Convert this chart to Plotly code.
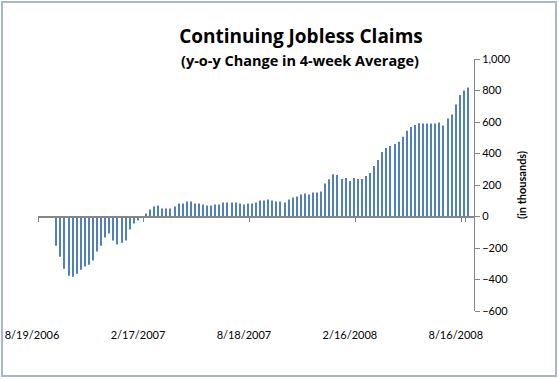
import plotly.graph_objects as go
import pandas as pd

# Weekly categories (Saturday week-ending dates)
week_dates = pd.date_range("2006-08-19", periods=107, freq="7D")
week_labels = [f"{d.month}/{d.day}/{d.year}" for d in week_dates]

# y-o-y change in the 4-week average of continuing claims (thousands)
yoy_change = [
    None, None, None, None,
    -185, -255, -331, -376, -382, -363, -338, -318, -306, -280,
    -223, -185, -134, -108, -153, -178, -166, -153, -83, -45,
    -25, 2, 19, 45, 64, 70, 51, 51, 51, 64,
    83, 83, 96, 96, 83, 83, 76, 70, 70, 76,
    76, 89, 89, 89, 89, 83, 76, 83, 83, 89,
    102, 102, 108, 102, 95, 95, 89, 108, 121, 127,
    140, 146, 140, 153, 153, 159, 210, 236, 268, 263,
    238, 244, 225, 244, 238, 238, 257, 276, 320, 359,
    410, 435, 448, 461, 474, 506, 544, 569, 581, 592,
    590, 590, 590, 590, 597, 578, 622, 647, 711, 771,
    800, 819,
    None,
]

tick_labels = ["8/19/2006", "2/17/2007", "8/18/2007", "2/16/2008", "8/16/2008"]

W, H = 559, 379
L, R, T, B = 38, 85, 59, 68
pw, ph = W - L - R, H - T - B

def px_x(p):
    return (p - L) / pw

def px_y(p):
    return (H - B - p) / ph

axis_gray = "#868686"
font_family = "Lato, Carlito, Calibri, sans-serif"
title_family = "'Open Sans', Lato, sans-serif"

fig = go.Figure(
    go.Bar(
        x=week_labels,
        y=yoy_change,
        marker=dict(color="#4f81bd", line=dict(width=0)),
        hoverinfo="x+y",
    )
)

fig.update_layout(
    width=W,
    height=H,
    autosize=False,
    margin=dict(l=L, r=R, t=T, b=B, pad=0),
    plot_bgcolor="white",
    paper_bgcolor="white",
    bargap=0.75,
    showlegend=False,
    font=dict(family=font_family, size=11, color="black"),
    title=dict(
        text="<b>Continuing Jobless Claims</b>",
        x=301 / W,
        xref="container",
        xanchor="center",
        y=1 - 36.5 / H,
        yref="container",
        yanchor="middle",
        font=dict(family=title_family, size=19, color="black"),
    ),
    annotations=[
        dict(
            text="<b>(y-o-y Change in 4-week Average)</b>",
            x=px_x(300),
            y=px_y(60),
            xref="paper",
            yref="paper",
            xanchor="center",
            yanchor="middle",
            showarrow=False,
            font=dict(family=title_family, size=14.5, color="black"),
        )
    ],
    shapes=[
        dict(
            type="rect",
            xref="paper",
            yref="paper",
            x0=px_x(2),
            x1=px_x(556),
            y0=px_y(376),
            y1=px_y(2),
            line=dict(color="#a9b8c9", width=2),
            layer="below",
        )
    ],
)

fig.update_xaxes(
    type="category",
    range=[-0.5, 106.5],
    anchor="free",
    position=600 / 1600,
    showline=True,
    linecolor=axis_gray,
    linewidth=1.5,
    ticks="outside",
    ticklen=5,
    tickwidth=1,
    tickcolor=axis_gray,
    tickson="boundaries",
    tickmode="array",
    tickvals=tick_labels,
    ticktext=tick_labels,
    ticklabelstandoff=109,
    ticklabelshift=-8,
    tickangle=0,
    showgrid=False,
    zeroline=False,
    tickfont=dict(family=font_family, size=11, color="black"),
    automargin=False,
)

fig.update_yaxes(
    side="right",
    range=[-600, 1000],
    tick0=0,
    dtick=200,
    tickformat=",",
    showline=True,
    linecolor=axis_gray,
    linewidth=1,
    ticks="outside",
    ticklen=5,
    tickcolor=axis_gray,
    showgrid=False,
    zeroline=False,
    tickfont=dict(family=font_family, size=11, color="black"),
    title=dict(
        text="<b>(in thousands)</b>",
        font=dict(family=font_family, size=11, color="black"),
        standoff=8,
    ),
    automargin=False,
)

fig.write_html(
    "out.html",
    config={"displayModeBar": False},
    post_script="document.body.style.margin='0';",
)
